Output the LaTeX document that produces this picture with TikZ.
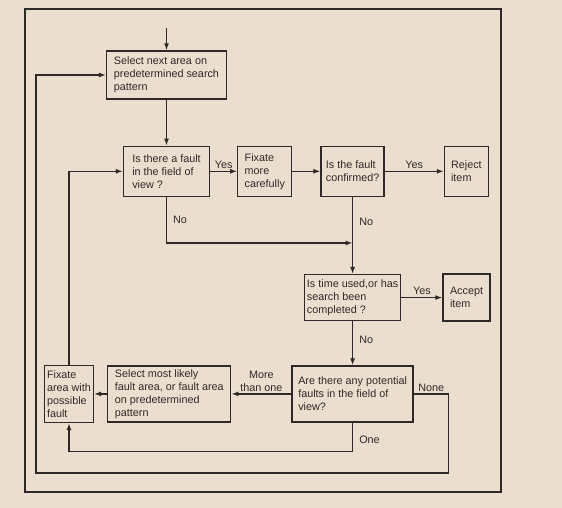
\documentclass[tikz,border=0pt]{standalone}
\usepackage{fontspec}
\setmainfont{Liberation Sans}
\usetikzlibrary{arrows.meta, positioning, calc}
\definecolor{PageTone}{HTML}{EADFCE}
\definecolor{InkGray}{HTML}{2E2929}
\tikzset{
  stepbox/.style={draw=InkGray, line width=1.3pt, align=left, inner xsep=4pt, inner ysep=3pt, text=InkGray, font=\fontsize{10.8}{13}\selectfont},
  arrow/.style={-{Latex[length=7pt, width=5pt]}, line width=1.3pt, draw=InkGray},
  lbl/.style={text=InkGray, inner sep=2pt, font=\fontsize{10.8}{12.5}\selectfont}
}
\begin{document}
\begin{tikzpicture}[x=1pt, y=-1pt]
\fill[PageTone] (0,0) rectangle (562,508);
\draw[InkGray, line width=1.1pt] (25,9) rectangle (501,492);
% top row
\node[stepbox, minimum width=120pt, minimum height=48pt] (select) at (166.5,75) {
Select next area on\\predetermined search\\pattern
};
\node[stepbox, below=46pt of select, minimum width=86pt, minimum height=50pt] (fault) {
Is there a fault\\in the field of\\view ?
};
\node[stepbox, right=27pt of fault, minimum width=54pt, minimum height=50pt] (careful) {
Fixate\\more\\carefully
};
\node[stepbox, right=28pt of careful, minimum width=63pt, minimum height=50pt] (confirm) {
Is the fault\\confirmed?
};
\node[stepbox, right=59pt of confirm, minimum width=44pt, minimum height=50pt] (reject) {
Reject\\item
};
% middle
\node[stepbox, below=77pt of confirm, minimum width=96pt, minimum height=46pt, inner xsep=2.5pt] (timeup) {
Is time used,or has\\search been\\completed ?
};
\node[stepbox, right=41pt of timeup, minimum width=47pt, minimum height=47pt] (accept) {
Accept\\item
};
% bottom row
\node[stepbox, below=44pt of timeup, minimum width=121pt, minimum height=56pt] (potential) {
Are there any potential\\faults in the field of\\view?
};
\node[stepbox, left=60pt of potential, minimum width=123pt, minimum height=56pt] (likely) {
Select most likely\\fault area, or fault area\\on predetermined\\pattern
};
\node[stepbox, left=13pt of likely, minimum width=49pt, minimum height=57pt, inner xsep=2.5pt] (mark) {
Fixate\\area with\\possible\\fault
};
\coordinate[above=22pt of select] (entry);
\path (confirm.south) ++(0,46) coordinate (merge);
\coordinate (retcorner) at (36,473);
\draw[arrow] (entry) -- (select);
\draw[arrow] (select) -- (fault);
\draw[arrow] (fault) -- node[lbl, above] {Yes} (careful);
\draw[arrow] (careful) -- (confirm);
\draw[arrow] (confirm) -- node[lbl, above] {Yes} (reject);
\draw[arrow] (fault.south) |- node[lbl, pos=0.25, right=4pt] {No} (merge);
\draw[arrow] (confirm) -- node[lbl, pos=0.32, right=4pt] {No} (timeup);
\draw[arrow] (timeup) -- node[lbl, above] {Yes} (accept);
\draw[arrow] (timeup) -- node[lbl, pos=0.43, right=4pt] {No} (potential);
\draw[arrow] (potential) -- node[lbl, above, align=center] {More\\than one} (likely);
\draw[arrow] (likely) -- (mark);
\draw[arrow] (mark.north) |- (fault.west);
\draw[arrow] (potential.south) -- node[lbl, pos=0.6, right=4pt] {One} ++(0,29) -| (mark.south);
\draw[arrow] (potential.east) -- node[lbl, above] {None} ++(35,0) |- (retcorner) |- (select.west);
\end{tikzpicture}
\end{document}
